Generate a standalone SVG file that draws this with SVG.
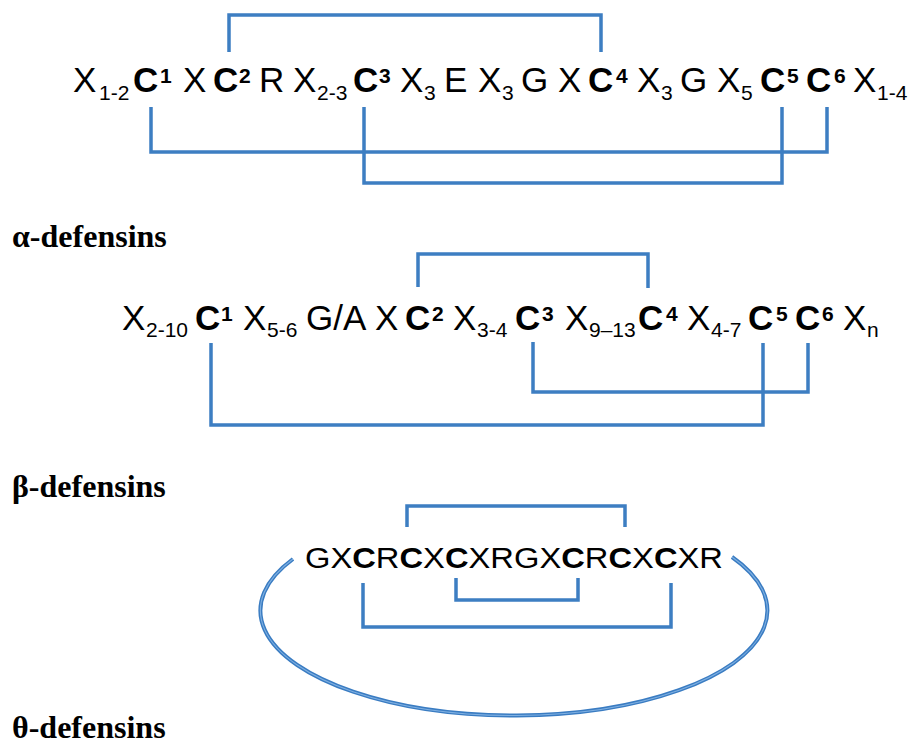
<svg xmlns="http://www.w3.org/2000/svg" width="911" height="747" viewBox="0 0 911 747">
  <style>
    .seq { font-family: "Liberation Sans", Arial, sans-serif; font-size: 35px; fill: #000; }
    .cys { font-weight: bold; }
    .sub, .sup { font-size: 21px; }
    .label { font-family: "Liberation Serif", "Times New Roman", serif; font-size: 32px; font-weight: bold; fill: #000; }
    .bond { fill: none; stroke: #3d7ec2; stroke-width: 3.5; stroke-linejoin: miter; stroke-linecap: butt; }
    .ring { fill: none; stroke: #3a7cc2; stroke-width: 4; }
    .ring-hi { fill: none; stroke: #7fb0e2; stroke-width: 1.1; }
  </style>
  <rect width="911" height="747" fill="#fff"/>

  <!-- disulfide bridges -->
  <g id="connectors">
    <!-- alpha: C1-C6, C2-C4, C3-C5 -->
    <path class="bond" d="M229,52 V15 H601 V52"/>
    <path class="bond" d="M151,107 V152 H827 V107"/>
    <path class="bond" d="M364,107 V183 H782 V107"/>
    <!-- beta: C1-C5, C2-C4, C3-C6 -->
    <path class="bond" d="M418,287 V254 H648 V288"/>
    <path class="bond" d="M533,342 V392 H808 V343"/>
    <path class="bond" d="M211,343 V425 H763 V343"/>
    <!-- theta: cyclic backbone and ladder of bridges -->
    <path class="bond" d="M407,527 V506 H625 V527"/>
    <path class="bond" d="M456,578 V600 H578 V578"/>
    <path class="bond" d="M363,583 V627 H671 V583"/>
    <path class="ring" d="M293,559 A253.5,105 0 1,0 732,557"/>
    <path class="ring-hi" d="M293,559 A253.5,105 0 1,0 732,557"/>
  </g>

  <!-- alpha-defensin consensus -->
  <g id="alpha-seq" class="seq">
    <text x="73" y="92">X</text><text class="sub" x="99" y="100">1-2</text>
    <text class="cys" x="133" y="92">C</text><text class="cys sup" x="160" y="83">1</text>
    <text x="183" y="92">X</text>
    <text class="cys" x="213" y="92">C</text><text class="cys sup" x="239" y="83">2</text>
    <text x="259" y="92">R</text>
    <text x="293" y="92">X</text><text class="sub" x="317" y="100">2-3</text>
    <text class="cys" x="353" y="92">C</text><text class="cys sup" x="379" y="83">3</text>
    <text x="400" y="92">X</text><text class="sub" x="424" y="100">3</text>
    <text x="444" y="92">E</text>
    <text x="478" y="92">X</text><text class="sub" x="502" y="100">3</text>
    <text x="521" y="92">G</text>
    <text x="558" y="92">X</text>
    <text class="cys" x="588" y="92">C</text><text class="cys sup" x="616" y="83">4</text>
    <text x="637" y="92">X</text><text class="sub" x="661" y="100">3</text>
    <text x="680" y="92">G</text>
    <text x="717" y="92">X</text><text class="sub" x="741" y="100">5</text>
    <text class="cys" x="760" y="92">C</text><text class="cys sup" x="787" y="83">5</text>
    <text class="cys" x="806" y="92">C</text><text class="cys sup" x="834" y="83">6</text>
    <text x="853" y="92">X</text><text class="sub" x="877" y="100">1-4</text>
  </g>
  <g id="alpha-label">
    <text class="label" x="12" y="247">α-defensins</text>
  </g>

  <!-- beta-defensin consensus -->
  <g id="beta-seq" class="seq">
    <text x="122" y="330">X</text><text class="sub" x="146" y="337">2-10</text>
    <text class="cys" x="195" y="330">C</text><text class="cys sup" x="221" y="321">1</text>
    <text x="243" y="330">X</text><text class="sub" x="267" y="337">5-6</text>
    <text x="306" y="330">G/A</text>
    <text x="375" y="330">X</text>
    <text class="cys" x="405" y="330">C</text><text class="cys sup" x="432" y="321">2</text>
    <text x="453" y="330">X</text><text class="sub" x="477" y="337">3-4</text>
    <text class="cys" x="515" y="330">C</text><text class="cys sup" x="542" y="321">3</text>
    <text x="565" y="330">X</text><text class="sub" x="589" y="337">9–13</text>
    <text class="cys" x="638" y="330">C</text><text class="cys sup" x="666" y="321">4</text>
    <text x="687" y="330">X</text><text class="sub" x="711" y="337">4-7</text>
    <text class="cys" x="748" y="330">C</text><text class="cys sup" x="776" y="321">5</text>
    <text class="cys" x="795" y="330">C</text><text class="cys sup" x="822" y="321">6</text>
    <text x="843" y="330">X</text><text class="sub" x="867" y="337">n</text>
  </g>
  <g id="beta-label">
    <text class="label" x="12" y="497">β-defensins</text>
  </g>

  <!-- theta-defensin cyclic sequence -->
  <g id="theta-seq" class="seq">
    <text x="305" y="568" style="font-size:30px" textLength="418" lengthAdjust="spacingAndGlyphs">GX<tspan class="cys">C</tspan>R<tspan class="cys">C</tspan>X<tspan class="cys">C</tspan>XRGX<tspan class="cys">C</tspan>R<tspan class="cys">C</tspan>X<tspan class="cys">C</tspan>XR</text>
  </g>
  <g id="theta-label">
    <text class="label" x="12" y="738">θ-defensins</text>
  </g>
</svg>
